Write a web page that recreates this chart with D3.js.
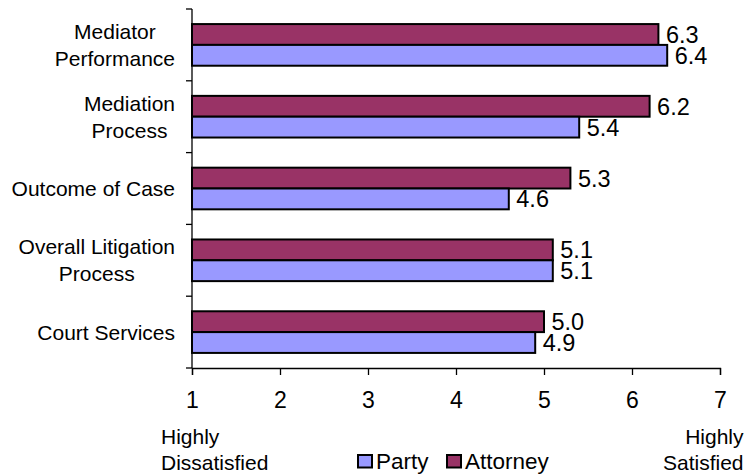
<!DOCTYPE html>
<html>
<head>
<meta charset="utf-8">
<script src="https://cdn.jsdelivr.net/npm/d3@7"></script>
<style>
  html, body { margin: 0; padding: 0; background: #fff; }
  svg { display: block; }
  text { font-family: "Liberation Sans", Arial, sans-serif; fill: #000; }
</style>
</head>
<body>
<svg id="chart" width="747" height="474"></svg>
<script>
// Satisfaction ratings, 1 = highly dissatisfied, 7 = highly satisfied
const categories = [
  "Mediator Performance",
  "Mediation Process",
  "Outcome of Case",
  "Overall Litigation Process",
  "Court Services"
];
const categoryLines = [
  ["Mediator", "Performance"],
  ["Mediation", "Process "],
  ["Outcome of Case"],
  ["Overall Litigation", "Process"],
  ["Court Services"]
];
const series = ["Attorney", "Party"];
const partyValues = [6.4, 5.4, 4.6, 5.1, 4.9];
const attorneyValues = [6.3, 6.2, 5.3, 5.1, 5.0];
const xTicks = [1, 2, 3, 4, 5, 6, 7];
const legendOrder = ["Party", "Attorney"];

const colors = { Party: "#9999ff", Attorney: "#993366" };
const valuesBySeries = { Party: partyValues, Attorney: attorneyValues };

const svg = d3.select("#chart");
const plot = { left: 192, right: 720, top: 9, bottom: 368 };

const x = d3.scaleLinear().domain([1, 7]).range([plot.left, plot.right]);
const y0 = d3.scaleBand().domain(categories)
  .range([plot.top, plot.bottom]).paddingInner(0.42).paddingOuter(0.21);
const y1 = d3.scaleBand().domain(series).range([0, y0.bandwidth()]);

function label(g, str, px, py, anchor, size) {
  return g.append("text")
    .attr("x", px).attr("y", py)
    .attr("text-anchor", anchor)
    .style("font-size", size + "px")
    .text(str);
}

// bars
const rows = categories.map((c, i) => ({ c, i }));
const groups = svg.append("g").selectAll("g").data(rows).join("g")
  .attr("transform", d => `translate(0,${y0(d.c)})`);

groups.selectAll("rect")
  .data(d => series.map(s => ({ s, v: valuesBySeries[s][d.i] })))
  .join("rect")
  .attr("x", x(1))
  .attr("y", d => y1(d.s))
  .attr("width", d => x(d.v) - x(1))
  .attr("height", y1.bandwidth())
  .attr("fill", d => colors[d.s])
  .attr("stroke", "#000")
  .attr("stroke-width", 2);

// value labels
groups.each(function (d) {
  const g = d3.select(this);
  series.forEach(s => {
    const v = valuesBySeries[s][d.i];
    label(g, v.toFixed(1), x(v) + 7.5, y1(s) + y1.bandwidth() / 2 + 8.5, "start", 23.5);
  });
});

// x axis
const xAxis = d3.axisBottom(x).tickValues(xTicks).tickSize(7).tickPadding(16.5)
  .tickFormat(d3.format("d"));
const gx = svg.append("g").attr("transform", `translate(0,${plot.bottom})`).call(xAxis);
gx.select(".domain").attr("stroke", "#000").attr("stroke-width", 1.3);
gx.selectAll(".tick line").attr("stroke", "#000").attr("stroke-width", 1.3);
gx.selectAll(".tick text")
  .style("font-size", "23px")
  .attr("font-family", null);

// y axis with ticks on category boundaries
const step = y0.step();
const boundaries = [plot.top].concat(categories.map(c => y0(c) + y0.bandwidth() + step * 0.21));
const gy = svg.append("g");
gy.append("line")
  .attr("x1", plot.left).attr("x2", plot.left)
  .attr("y1", plot.top).attr("y2", plot.bottom)
  .attr("stroke", "#000").attr("stroke-width", 1.3);
gy.selectAll("line.tk").data(boundaries).join("line").attr("class", "tk")
  .attr("x1", plot.left - 6).attr("x2", plot.left)
  .attr("y1", d => d).attr("y2", d => d)
  .attr("stroke", "#000").attr("stroke-width", 1.3);

// category labels: lines centred on each other, block right-aligned
const labelRight = 175;
categoryLines.forEach((lines, i) => {
  const cy = y0(categories[i]) + y0.bandwidth() / 2;
  const g = svg.append("g");
  const baselines = lines.map((t, j) => cy + 7.5 + (j - (lines.length - 1) / 2) * 27);
  const texts = lines.map((t, j) => label(g, t, 0, baselines[j], "middle", 21));
  const maxW = d3.max(texts, t => t.node().getComputedTextLength());
  texts.forEach(t => t.attr("x", labelRight - maxW / 2));
});

// scale end captions
const cap = svg.append("g");
label(cap, "Highly", 161, 443.5, "start", 21);
label(cap, "Dissatisfied", 161, 470, "start", 21);
label(cap, "Highly", 743.5, 443.5, "end", 21);
label(cap, "Satisfied", 743.5, 470, "end", 21);

// legend
const legendX = { Party: 357, Attorney: 446 };
const lg = svg.append("g");
legendOrder.forEach(s => {
  lg.append("rect")
    .attr("x", legendX[s] + 1).attr("y", 455)
    .attr("width", 14).attr("height", 12.5)
    .attr("fill", colors[s]).attr("stroke", "#000").attr("stroke-width", 2);
  label(lg, s, legendX[s] + 19, 468.5, "start", 22.5);
});
</script>
</body>
</html>
